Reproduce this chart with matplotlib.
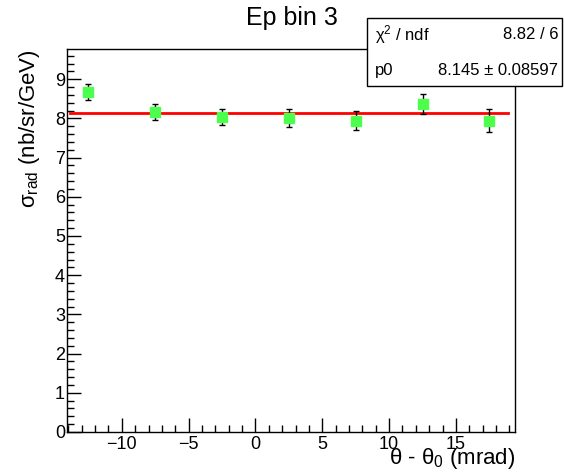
import matplotlib
matplotlib.use("Agg")
import matplotlib.pyplot as plt
from matplotlib.patches import Rectangle
from matplotlib.ticker import MultipleLocator

plt.rcParams['font.family'] = ['Liberation Sans', 'DejaVu Sans']
plt.rcParams['mathtext.fontset'] = 'custom'
plt.rcParams['mathtext.rm'] = 'Liberation Sans'
plt.rcParams['mathtext.it'] = 'Liberation Sans:italic'

# cross section per angular bin, Ep bin 3
theta = [-12.5, -7.5, -2.5, 2.5, 7.5, 12.5, 17.5]
sigma = [8.67, 8.16, 8.04, 8.01, 7.94, 8.36, 7.94]
sigma_err = [0.21, 0.21, 0.20, 0.22, 0.24, 0.26, 0.29]

# pol0 fit result
p0 = 8.145
p0_err = 0.08597
chi2 = 8.82
ndf = 6
fit_range = [-13.9, 18.9]

fig = plt.figure(figsize=(5.64, 4.73), dpi=100)
ax = fig.add_axes([0.1188, 0.0867, 0.7944, 0.8097])

ax.errorbar(theta, sigma, yerr=sigma_err, fmt='s', color='#4dff4d', ms=7,
            mec='#4dff4d', ecolor='black', elinewidth=1, capsize=2.5,
            capthick=1, zorder=3)
ax.plot(fit_range, [p0, p0], color='red', lw=2, zorder=2)

ax.set_xlim(-14.1, 19.42)
ax.set_ylim(0, 9.77)
ax.xaxis.set_major_locator(MultipleLocator(5))
ax.xaxis.set_minor_locator(MultipleLocator(1))
ax.yaxis.set_major_locator(MultipleLocator(1))
ax.yaxis.set_minor_locator(MultipleLocator(0.2))
ax.tick_params(which='both', direction='in', top=False, right=False,
               labelsize=13, width=1)
ax.tick_params(which='major', length=10)
ax.tick_params(which='minor', length=5)
ax.tick_params(axis='x', pad=3)
ax.tick_params(axis='y', pad=1.5)
for s in ax.spines.values():
    s.set_linewidth(1)

ax.set_xlabel('θ - θ$_{0}$ (mrad)', fontsize=16, loc='right', labelpad=-5)
ax.set_ylabel('σ$_{\\rm rad}$ (nb/sr/GeV)', fontsize=16, loc='top',
              labelpad=9)

fig.text(0.518, 0.963, 'Ep bin 3', fontsize=18, ha='center', va='center')

# stats box
fig.patches.append(Rectangle((0.651, 0.818), 0.346, 0.144,
                             transform=fig.transFigure, facecolor='white',
                             edgecolor='black', lw=1, zorder=5))
fig.text(0.665, 0.928, 'χ$^{2}$ / ndf', fontsize=12, va='center', zorder=6)
fig.text(0.99, 0.928, f'{chi2:.2f} / {ndf}', fontsize=12, va='center',
         ha='right', zorder=6)
fig.text(0.665, 0.852, 'p0', fontsize=12, va='center', zorder=6)
fig.text(0.99, 0.852, f'{p0:.3f} ± {p0_err:.5f}', fontsize=12,
         va='center', ha='right', zorder=6)

fig.savefig('out.png', dpi=100)
